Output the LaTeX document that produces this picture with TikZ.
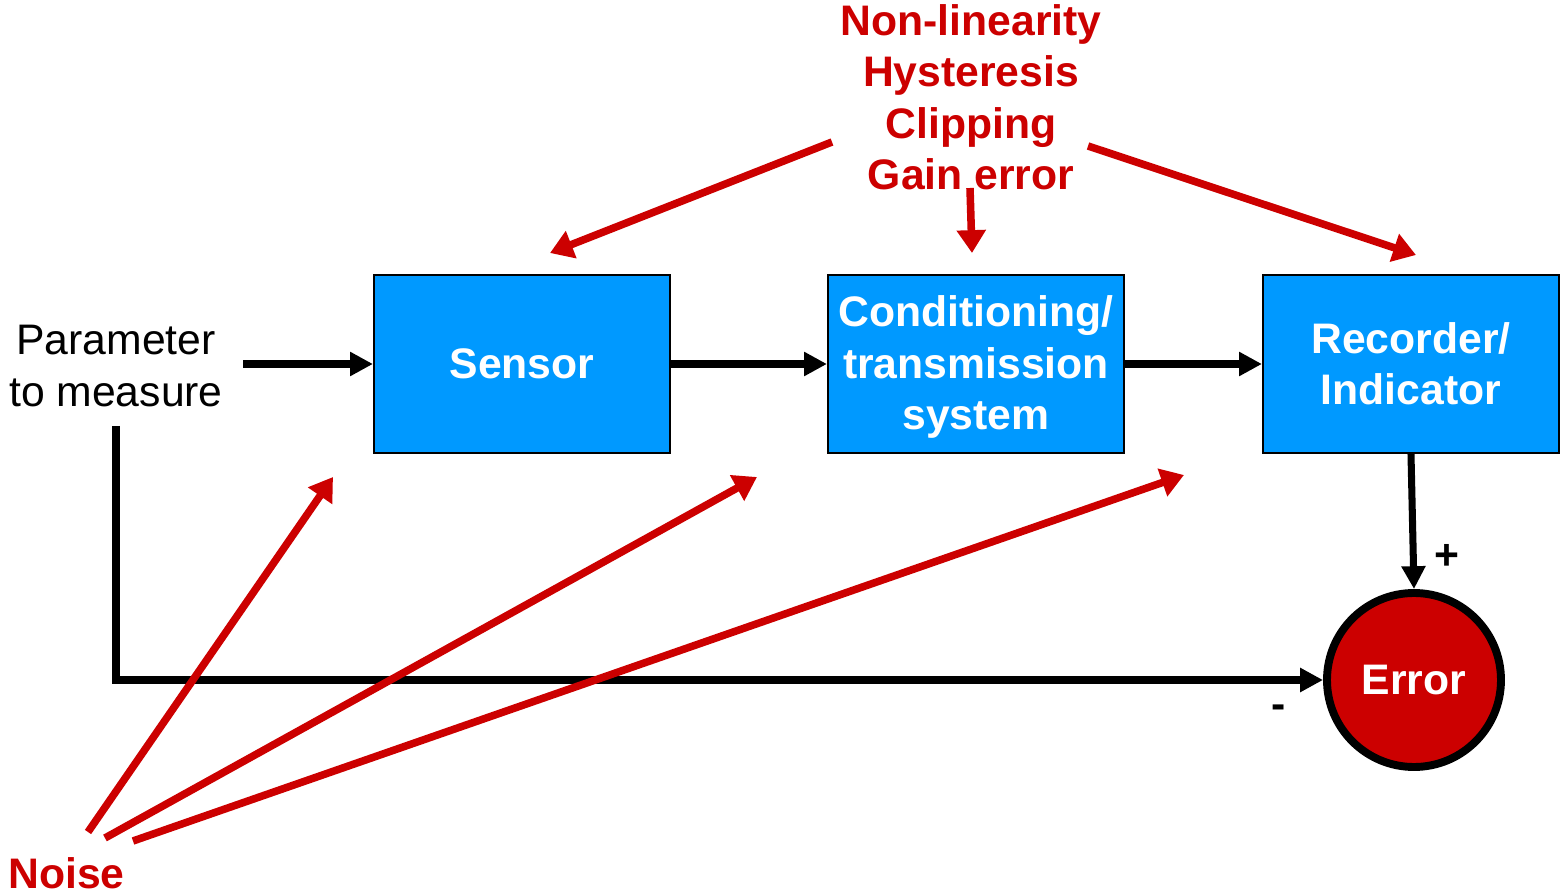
\documentclass[tikz,border=0pt]{standalone}
\usepackage{fontspec}
\setmainfont{Liberation Sans}
\usetikzlibrary{arrows.meta}
\definecolor{boxblue}{HTML}{0099FF}
\definecolor{errred}{HTML}{CC0000}
\begin{document}
\begin{tikzpicture}[x=0.02cm,y=-0.02cm,
  txt/.style={font=\fontsize{24.3}{29.3}\selectfont, align=center, inner sep=0pt},
  blk/.style={draw=black, line width=1.2pt, fill=boxblue, minimum width=296*0.02cm, minimum height=178*0.02cm, text=white, font=\fontsize{24.3}{29.3}\selectfont\bfseries, align=center, inner sep=0pt},
  whitetxt/.style={text=white, font=\fontsize{24.3}{29.3}\selectfont\bfseries, align=center, inner sep=0pt},
  blkarrow/.style={line width=4pt, -{Triangle[length=13pt,width=13pt]}},
  redarrow/.style={draw=errred, line width=4.3pt, -{Triangle[length=13pt,width=16pt]}},
  redtxt/.style={txt, text=errred, font=\fontsize{24.3}{29.3}\selectfont\bfseries}
]
\useasboundingbox (0,0) rectangle (1560,895);
% blocks
\node[blk] (sensor) at (522,364) {Sensor};
\node[blk] (cond) at (976,364) {};
\node[whitetxt] (condtext) at (976,367) {Conditioning/\\transmission\\system};
\node[blk] (rec) at (1411,364) {Recorder/\\Indicator};
\node[circle, draw=black, line width=4.5pt, fill=errred, minimum size=174*0.02cm, inner sep=0pt, text=white, font=\fontsize{24.3}{29.3}\selectfont\bfseries] (err) at (1414,680) {Error};
% input text
\node[txt] (param) at (116,366) {Parameter\\to measure};
\coordinate (inL) at (243,364);
\coordinate (fbTop) at (116,426);
\coordinate (fbCorner) at (116,680);
% black connectors
\draw[blkarrow] (inL) -- (sensor.west);
\draw[blkarrow] (sensor.east) -- (cond.west);
\draw[blkarrow] (cond.east) -- (rec.west);
\draw[blkarrow] (rec.south) -- (err.north);
\draw[blkarrow] (fbTop) -- (fbCorner) -- (err.west);
\node[font=\fontsize{24.3}{29.3}\selectfont\bfseries, inner sep=0pt] (plus) at (1447,557) {+};
\node[font=\fontsize{24.3}{29.3}\selectfont\bfseries, inner sep=0pt] (minus) at (1279,712) {-};
% top red text
\node[redtxt, anchor=base] (nl) at (971,35.5) {Non-linearity};
\node[redtxt, anchor=base] (hy) at (971,87) {Hysteresis};
\node[redtxt, anchor=base] (cl) at (971,139) {Clipping};
\node[redtxt, anchor=base] (ge) at (971,190) {Gain error};
\coordinate (t1s) at (832,142); \coordinate (t1e) at (550,253);
\coordinate (t2s) at (970,188); \coordinate (t2e) at (972,253);
\coordinate (t3s) at (1088,146); \coordinate (t3e) at (1416,255);
\draw[redarrow] (t1s) -- (t1e);
\draw[redarrow] (t2s) -- (t2e);
\draw[redarrow] (t3s) -- (t3e);
% noise
\node[redtxt, anchor=base west] (noise) at (8,888) {Noise};
\coordinate (n1s) at (88,832); \coordinate (n1e) at (333,477);
\coordinate (n2s) at (105,838); \coordinate (n2e) at (757,477);
\coordinate (n3s) at (133,841); \coordinate (n3e) at (1184,475);
\draw[redarrow] (n1s) -- (n1e);
\draw[redarrow] (n2s) -- (n2e);
\draw[redarrow] (n3s) -- (n3e);
\end{tikzpicture}
\end{document}
